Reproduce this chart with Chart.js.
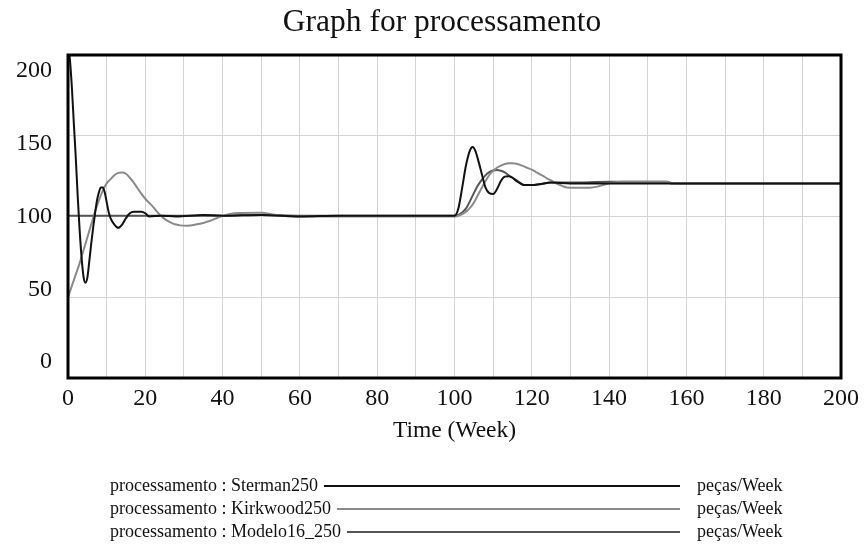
<!DOCTYPE html>
<html>
<head>
<meta charset="utf-8">
<script src="https://cdn.jsdelivr.net/npm/chart.js@4"></script>
<style>
  html, body { margin: 0; padding: 0; background: #fff; }
  #wrap { width: 865px; height: 549px; position: relative; }
</style>
</head>
<body>
<div id="wrap"><canvas id="chart" width="865" height="549"></canvas></div>
<script>
// --- DADOS ---
const xTicks = [0, 20, 40, 60, 80, 100, 120, 140, 160, 180, 200];
const yTicks = [0, 50, 100, 150, 200];
const chartTitle = 'Graph for processamento';
const seriesNames = ['processamento : Sterman250', 'processamento : Kirkwood250', 'processamento : Modelo16_250'];
const unitLabel = 'peças/Week';

const stermanT = [0, 0.5, 1, 1.5, 2, 2.5, 3, 3.5, 4, 4.5, 5, 5.5, 6, 6.5, 7, 7.5, 8, 8.5, 9, 9.5, 10, 10.5, 11, 12, 13, 14, 15, 16, 17, 18, 19, 20, 21, 24, 28, 35, 40, 50, 60, 70, 80, 100,
  101, 102, 103, 104, 104.7, 105.5, 106, 107, 108, 109, 110, 111, 112, 113, 114, 115, 116, 117, 118, 120, 122, 125, 130, 200];
const stermanV = [208, 197, 180, 158, 137, 113, 92, 75, 63, 59, 62, 72, 83, 93, 102, 110, 115, 118, 118, 115, 109, 103, 99, 95, 93, 95, 99, 102, 103, 103, 103, 102, 100, 100.5, 100, 101, 100.5, 101, 100, 100.5, 100.5, 100.5,
  105, 118, 132, 141, 143, 140, 136, 127, 118, 114.5, 114, 117, 122, 124.7, 125, 124, 122, 120.5, 119.5, 119.5, 120, 121, 120.5, 120.5];

const kirkwoodT = [0, 1, 2, 3, 4, 5, 6, 7, 8, 9, 10, 11, 12, 13, 14, 15, 16, 17, 18, 19, 20, 21, 22, 23, 24, 25, 26, 27, 28, 29, 31, 33, 35, 37, 39, 41, 43, 50, 53, 56, 60, 100,
  101, 102, 103, 104, 105, 106, 107, 108, 109, 110, 111, 112, 113, 114, 115, 116, 117, 118, 119, 120, 121, 122, 123, 124, 125, 126, 127, 128, 129, 131, 135, 137, 139, 141, 143, 155, 157, 200];
const kirkwoodV = [50, 57, 64, 71, 79, 87, 95, 103, 110, 116, 120.5, 123, 125.5, 127, 127.3, 126.5, 124, 121, 117.5, 114, 111, 108.5, 106, 103, 100.5, 98.5, 97, 95.7, 95, 94.5, 94.3, 95, 96, 97.5, 99.5, 101, 102, 102.3, 101.3, 100.3, 100, 100,
  100.5, 101.5, 103, 105.3, 108.5, 113, 117.5, 121.8, 125.7, 128.3, 130.2, 131.5, 132.5, 133, 133, 132.7, 132, 131, 130, 129, 127.7, 126.3, 125, 123.5, 122.3, 121, 119.8, 118.8, 118, 117.8, 117.8, 118.5, 120, 121, 121.5, 121.5, 120.5, 120.5];

const modeloT = [0, 40, 50, 60, 100, 101, 102, 103, 104, 105, 106, 107, 108, 109, 110, 111, 112, 113, 114, 115, 116, 117, 118, 120, 122, 125, 130, 140, 155, 156, 200];
const modeloV = [100.5, 100.5, 101, 100.5, 100.5, 101, 102.5, 105, 109.5, 114.5, 119, 122.5, 125.5, 127.5, 128.5, 128.8, 128.3, 127.3, 125.5, 124, 122.5, 120.8, 119.5, 119.5, 120, 121, 121, 121.5, 121.5, 120.5, 120.5];

const seriesColors = ['#111111', '#8a8a8a', '#555555'];

const toPoints = (ts, vs) => ts.map((t, i) => ({ x: t, y: vs[i] }));
const serif = "'Liberation Serif', 'Times New Roman', serif";

// título centralizado como no Vensim
const titlePlugin = {
  id: 'vensimTitle',
  afterDraw(chart) {
    const { ctx } = chart;
    ctx.save();
    ctx.font = '31.5px ' + serif;
    ctx.fillStyle = '#111';
    ctx.textAlign = 'center';
    ctx.textBaseline = 'middle';
    ctx.fillText(chartTitle, 442, 23);
    ctx.restore();
  }
};

// rótulos do eixo Y: o Vensim os coloca um pouco para dentro da área
const yLabelPlugin = {
  id: 'yLabels',
  afterDraw(chart) {
    const { ctx, scales: { y } } = chart;
    const inset = 16;
    ctx.save();
    ctx.font = '24px ' + serif;
    ctx.fillStyle = '#111';
    ctx.textAlign = 'right';
    ctx.textBaseline = 'middle';
    y.ticks.forEach(t => {
      const frac = (y.getPixelForValue(t.value) - y.top) / (y.bottom - y.top);
      const py = y.top + inset + frac * (y.bottom - y.top - 2 * inset);
      ctx.fillText(String(t.value), y.right - 16, py);
    });
    ctx.restore();
  }
};

// moldura preta em volta da área do gráfico
const framePlugin = {
  id: 'frame',
  afterDatasetsDraw(chart) {
    const { ctx, chartArea: a } = chart;
    ctx.save();
    ctx.strokeStyle = '#000';
    ctx.lineWidth = 3;
    ctx.strokeRect(a.left, a.top, a.right - a.left, a.bottom - a.top);
    ctx.restore();
  }
};

// legenda no estilo Vensim
const legendPlugin = {
  id: 'vensimLegend',
  afterDraw(chart) {
    const { ctx } = chart;
    ctx.save();
    ctx.font = '18px ' + serif;
    ctx.textBaseline = 'middle';
    ctx.fillStyle = '#111';
    chart.data.datasets.forEach((ds, i) => {
      const y = 486 + i * 23;
      ctx.fillText(ds.label, 110, y);
      const w = ctx.measureText(ds.label).width;
      ctx.strokeStyle = ds.borderColor;
      ctx.lineWidth = 2;
      ctx.beginPath();
      ctx.moveTo(110 + w + 6, y);
      ctx.lineTo(680, y);
      ctx.stroke();
      ctx.fillText(unitLabel, 697, y);
    });
    ctx.restore();
  }
};

new Chart(document.getElementById('chart'), {
  type: 'line',
  data: {
    datasets: [
      { label: seriesNames[0], data: toPoints(stermanT, stermanV), borderColor: seriesColors[0] },
      { label: seriesNames[1], data: toPoints(kirkwoodT, kirkwoodV), borderColor: seriesColors[1] },
      { label: seriesNames[2], data: toPoints(modeloT, modeloV), borderColor: seriesColors[2] }
    ]
  },
  options: {
    responsive: false,
    animation: false,
    parsing: false,
    elements: {
      point: { radius: 0 },
      line: { borderWidth: 2, cubicInterpolationMode: 'monotone', fill: false }
    },
    layout: { padding: { left: 0, right: 23, top: 55, bottom: 104 } },
    plugins: {
      legend: { display: false },
      tooltip: { enabled: false },
      title: { display: false }
    },
    scales: {
      x: {
        type: 'linear',
        min: 0, max: 200,
        afterBuildTicks: (s) => { s.ticks = []; for (let v = 0; v <= 200; v += 10) s.ticks.push({ value: v }); },
        afterFit: (s) => { s.height = 67; },
        ticks: {
          color: '#111',
          font: { family: serif, size: 24 },
          padding: 6,
          maxRotation: 0,
          autoSkip: false,
          callback: (v) => xTicks.includes(v) ? String(v) : ''
        },
        grid: { color: '#d4d4d4', lineWidth: 1, drawTicks: false },
        border: { display: false },
        title: {
          display: true,
          text: 'Time (Week)',
          color: '#111',
          font: { family: serif, size: 23.5 },
          padding: { top: 0, bottom: 0 }
        }
      },
      y: {
        min: 0, max: 200,
        afterBuildTicks: (s) => { s.ticks = yTicks.map(v => ({ value: v })); },
        afterFit: (s) => { s.width = 68; },
        ticks: { display: false },
        grid: { color: '#d4d4d4', lineWidth: 1, drawTicks: false },
        border: { display: false }
      }
    }
  },
  plugins: [framePlugin, legendPlugin, titlePlugin, yLabelPlugin]
});
</script>
</body>
</html>
